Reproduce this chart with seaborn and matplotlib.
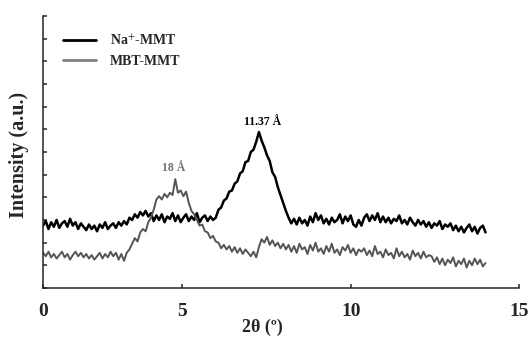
import numpy as np
import pandas as pd
import seaborn as sns
import matplotlib.pyplot as plt

# XRD patterns (intensity in arbitrary units, 0-12 scale)
na_mmt = [2.75, 2.95, 2.6, 2.9, 2.7, 3.0, 2.65, 2.85, 2.95, 2.7, 3.05, 2.75, 2.9, 2.6, 2.85,
          2.7, 2.55, 2.8, 2.6, 2.75, 2.5, 2.8, 2.65, 2.9, 2.6, 2.75, 2.85, 2.65, 2.9, 2.75,
          2.95, 2.8, 3.1, 3.0, 3.25, 3.1, 3.35, 3.2, 3.4, 3.15,
          3.3, 2.95, 3.2, 3.0, 3.25, 2.9, 3.15, 3.05, 3.3, 2.95, 3.2, 2.9, 3.1, 3.25, 2.95, 3.15,
          3.0, 3.3, 2.9, 3.1, 3.2, 2.95, 3.15, 3.0,
          3.1, 3.45, 3.55, 3.85, 3.95, 4.25, 4.3, 4.6, 4.7, 5.05, 5.15, 5.55, 5.6, 6.0, 6.1, 6.45, 6.88,
          6.5, 6.2, 5.85, 5.6, 5.1, 4.9, 4.45, 4.1, 3.75, 3.4, 3.1, 2.85,
          3.05, 2.8, 3.1, 2.85, 3.0, 2.75, 3.15, 2.9, 3.3, 3.0, 3.2, 2.85, 3.05, 2.8, 3.1, 2.9, 3.0,
          3.25, 2.85, 3.15, 2.95, 3.2, 2.8, 2.7, 3.0, 2.75, 3.1, 3.25, 2.95, 3.2, 3.0, 3.3, 2.9,
          3.15, 2.9, 3.1, 2.85, 3.05, 2.95, 3.2, 2.85, 3.0, 2.8, 3.1, 2.9, 2.75, 3.0, 2.8, 2.95,
          2.7, 2.9, 2.65, 2.85, 2.75, 2.95, 2.6, 2.8, 2.7,
          2.85, 2.55, 2.75, 2.5, 2.7, 2.45, 2.65, 2.8, 2.5, 2.7, 2.4, 2.65, 2.75, 2.45]

mbt_mmt = [1.55, 1.4, 1.6, 1.35, 1.5, 1.3, 1.45, 1.6, 1.35, 1.5, 1.25, 1.45, 1.6, 1.4, 1.55,
           1.35, 1.5, 1.3, 1.45, 1.25, 1.4, 1.55, 1.3, 1.5, 1.35, 1.6, 1.4, 1.55, 1.25, 1.5,
           1.2, 1.55, 1.7, 1.95,
           2.2, 2.05, 2.45, 2.6, 2.5, 2.9, 3.1, 3.45,
           3.9, 4.05, 3.9, 4.15, 4.0, 4.2, 4.1, 4.8, 4.2, 4.3, 4.05, 4.25,
           3.75, 3.4, 3.25, 3.0, 2.75, 2.8, 2.5, 2.45, 2.2, 2.3, 2.05,
           2.0, 1.75, 1.9, 1.7, 1.85, 1.6, 1.8, 1.55, 1.75, 1.5, 1.7, 1.55, 1.4, 1.6, 1.35,
           1.8, 2.15, 2.0, 2.25, 1.9, 2.1, 1.85, 2.0, 1.75, 1.95,
           1.7, 1.9, 1.6, 1.85, 1.55, 1.95, 1.7, 1.8, 1.5, 1.9, 1.65, 2.0, 1.6, 1.75, 1.5,
           1.85, 1.6, 1.95, 1.55, 1.7, 1.45, 1.8, 1.65, 1.9, 1.55, 1.75, 1.45, 1.7, 1.6,
           1.75, 1.45, 1.65, 1.4, 1.85, 1.5, 1.6, 1.35, 1.7, 1.45, 1.55, 1.3, 1.75, 1.4, 1.6,
           1.35, 1.5, 1.25, 1.65, 1.4, 1.55, 1.3, 1.6, 1.35, 1.45,
           1.4, 1.15, 1.35, 1.05, 1.3, 1.0, 1.25, 1.1, 1.35, 0.95, 1.2, 1.05, 1.3, 0.9, 1.2,
           1.0, 1.3, 1.05, 1.25, 0.95, 1.1]

# scan range of the pattern (2theta, degrees)
two_theta = np.linspace(0.87, 14.0, len(na_mmt))

x_ticks = [0.87, 5, 10, 15]
x_tick_labels = ["0", "5", "10", "15"]

df = pd.DataFrame({"2theta": two_theta, "Na": na_mmt, "MBT": mbt_mmt})

sns.set_style("ticks")
plt.rcParams['font.family'] = ['Liberation Serif', 'DejaVu Serif']
plt.rcParams['mathtext.fontset'] = 'stix'

fig = plt.figure(figsize=(5.32, 3.38), dpi=100)
ax = fig.add_axes([0.081, 0.148, 0.895, 0.805])

sns.lineplot(data=df, x="2theta", y="Na", color="black", linewidth=1.8,
             label="Na$^{+}$-MMT", ax=ax)
sns.lineplot(data=df, x="2theta", y="MBT", color="#555555", linewidth=1.4,
             label="MBT-MMT", ax=ax)

# peak labels
ax.text(7.37, 7.3, "11.37 Å", ha="center", va="center", fontsize=8.5,
        fontweight="bold", color="black")
ax.text(4.75, 5.3, "18 Å", ha="center", va="center", fontsize=8.5,
        fontweight="bold", color="#707070")

ax.set_xlim(0.87, 15)
ax.set_ylim(0, 12)
ax.set_xticks(x_ticks)
ax.set_xticklabels(x_tick_labels, fontsize=14, fontweight="bold")
ax.set_yticks(np.arange(0, 13, 1))
ax.set_yticklabels([])
ax.tick_params(axis="both", direction="in", length=3, width=1.1)
ax.tick_params(axis="x", pad=11)

ax.set_xlabel("2θ (º)", fontsize=13, fontweight="bold")
ax.xaxis.set_label_coords(0.46, -0.112)
ax.set_ylabel("Intensity (a.u.)", fontsize=14.5, fontweight="bold")
ax.yaxis.set_label_coords(-0.03, 0.49)

sns.despine(ax=ax)
for s in ["left", "bottom"]:
    ax.spines[s].set_linewidth(1.1)

leg = ax.legend(loc="upper left", bbox_to_anchor=(0.015, 0.98), frameon=False,
                handlelength=2.4, handletextpad=1.0, labelspacing=0.45,
                prop={"size": 10, "weight": "bold"})
leg.get_lines()[0].set_linewidth(2)
leg.get_lines()[1].set_linewidth(2)
leg.get_lines()[1].set_color("#808080")

fig.savefig("out.png", dpi=100)
